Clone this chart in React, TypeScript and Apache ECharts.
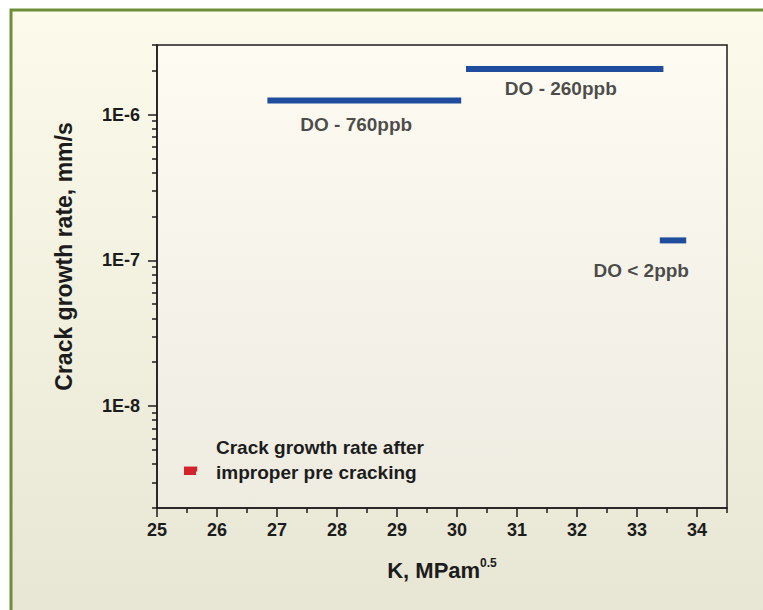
import React, { useEffect, useRef } from "react";
import * as echarts from "echarts";

// Horizontal segments: crack growth rate over a K range
const segNames = ["DO - 760ppb", "DO - 260ppb", "DO < 2ppb", "Crack growth rate after improper pre cracking"];
const kStart = [26.84, 30.15, 33.38, 25.45];
const kEnd = [30.07, 33.44, 33.82, 25.67];
const rates = [1.25e-6, 2.05e-6, 1.37e-7, 3.7e-9];
const segColors = ["#1f4c9c", "#1f4c9c", "#1f4c9c", "#d3222a"];

// Annotation texts placed beneath the segments
const noteTexts = ["DO - 760ppb", "DO - 260ppb", "DO < 2ppb"];
const noteK = [28.32, 31.73, 33.07];
const noteRate = [8.55e-7, 1.5e-6, 8.55e-8];

// Axis ticks
const xMajor = [25, 26, 27, 28, 29, 30, 31, 32, 33, 34];
const xMinor = [25.5, 26.5, 27.5, 28.5, 29.5, 30.5, 31.5, 32.5, 33.5, 34.5];
const yMajor = [1e-8, 1e-7, 1e-6];
const yMinor = [
  2e-9, 3e-9, 4e-9, 5e-9, 6e-9, 7e-9, 8e-9, 9e-9,
  2e-8, 3e-8, 4e-8, 5e-8, 6e-8, 7e-8, 8e-8, 9e-8,
  2e-7, 3e-7, 4e-7, 5e-7, 6e-7, 7e-7, 8e-7, 9e-7,
  2e-6, 3e-6,
];

const FONT = "Liberation Sans, Arial, sans-serif";
const INK = "#1c1c1c";

export default function App() {
  const ref = useRef<HTMLDivElement>(null);
  useEffect(() => {
    document.body.style.margin = "0";
    const chart = echarts.init(ref.current!, null, { renderer: "svg" });
    const axisLine = { show: true, onZero: false, lineStyle: { color: INK, width: 1.5 } };
    const segSeries = segNames.map((n, i) => ({
      type: "line",
      name: n,
      xAxisIndex: 0,
      yAxisIndex: 0,
      symbol: "none",
      data: [
        [kStart[i], rates[i]],
        [kEnd[i], rates[i]],
      ],
      lineStyle: { color: segColors[i], width: i === 3 ? 5 : 6, cap: "butt" },
      itemStyle: { color: segColors[i] },
      z: 3,
    }));
    chart.setOption({
      animation: false,
      backgroundColor: "#ffffff",
      textStyle: { fontFamily: FONT },
      graphic: [
        {
          type: "rect",
          z: -100,
          silent: true,
          shape: { x: 11, y: 10, width: 800, height: 700 },
          style: {
            fill: new echarts.graphic.LinearGradient(0, 0, 0, 1, [
              { offset: 0, color: "#fcfaea" },
              { offset: 1, color: "#e4e2d0" },
            ]),
            stroke: "#6d8f3b",
            lineWidth: 3,
          },
        },
      ],
      grid: {
        left: 157,
        right: 36,
        top: 45,
        bottom: 102,
        show: true,
        borderColor: INK,
        borderWidth: 1.5,
        backgroundColor: new echarts.graphic.LinearGradient(0, 0, 0, 1, [
          { offset: 0, color: "#fdfbf2" },
          { offset: 1, color: "#eeece1" },
        ]),
      },
      legend: {
        left: 184,
        top: 435,
        padding: 0,
        data: [{ name: segNames[3], icon: "rect", itemStyle: { color: segColors[3] } }],
        itemWidth: 12,
        itemHeight: 5,
        formatter: () => "Crack growth rate after\nimproper pre cracking\n ",
        textStyle: {
          fontFamily: FONT,
          fontSize: 19,
          fontWeight: "bold",
          color: INK,
          lineHeight: 25,
          padding: [0, 0, 0, 15],
        },
      },
      xAxis: [
        {
          type: "value",
          position: "bottom",
          min: 25,
          max: 34.5,
          interval: 1,
          axisLine,
          axisTick: { show: true, customValues: xMajor, length: 9, lineStyle: { color: INK, width: 1.5 } },
          axisLabel: {
            customValues: xMajor,
            margin: 13,
            fontFamily: FONT,
            fontSize: 18,
            fontWeight: "bold",
            color: INK,
          },
          splitLine: { show: false },
          name: "{a|K, MPam}{b|0.5}",
          nameLocation: "middle",
          nameGap: 49,
          nameTextStyle: {
            rich: {
              a: { fontFamily: FONT, fontSize: 22, fontWeight: "bold", color: INK },
              b: { fontFamily: FONT, fontSize: 12, fontWeight: "bold", color: INK, padding: [0, 0, 15, 0] },
            },
          },
        },
        {
          type: "value",
          position: "bottom",
          min: 25,
          max: 34.5,
          interval: 1,
          axisLine: { show: false, onZero: false },
          axisTick: { show: true, customValues: xMinor, length: 5, lineStyle: { color: INK, width: 1.5 } },
          axisLabel: { show: false },
          splitLine: { show: false },
        },
      ],
      yAxis: [
        {
          type: "log",
          logBase: 10,
          position: "left",
          min: 2e-9,
          max: 3e-6,
          axisLine,
          axisTick: { show: true, customValues: yMajor, length: 9, lineStyle: { color: INK, width: 1.5 } },
          axisLabel: {
            customValues: yMajor,
            margin: 17,
            fontFamily: FONT,
            fontSize: 18,
            fontWeight: "bold",
            color: INK,
            formatter: (v: number) => "1E" + Math.round(Math.log10(v)),
          },
          splitLine: { show: false },
          name: "Crack growth rate, mm/s",
          nameLocation: "middle",
          nameGap: 82,
          nameRotate: 90,
          nameTextStyle: {
            fontFamily: FONT,
            fontSize: 23,
            fontWeight: "bold",
            color: INK,
            padding: [0, 0, 0, 40],
          },
        },
        {
          type: "log",
          logBase: 10,
          position: "left",
          min: 2e-9,
          max: 3e-6,
          axisLine: { show: false },
          axisTick: { show: true, customValues: yMinor, length: 5, lineStyle: { color: INK, width: 1.5 } },
          axisLabel: { show: false },
          splitLine: { show: false },
        },
      ],
      series: [
        ...segSeries,
        {
          type: "scatter",
          name: "notes",
          xAxisIndex: 0,
          yAxisIndex: 0,
          symbolSize: 1,
          itemStyle: { color: "rgba(0,0,0,0)" },
          data: noteTexts.map((t, i) => ({ name: t, value: [noteK[i], noteRate[i]] })),
          label: {
            show: true,
            position: "inside",
            formatter: "{b}",
            fontFamily: FONT,
            fontSize: 19,
            fontWeight: "bold",
            color: INK,
          },
          z: 4,
        },
      ],
    });
    return () => chart.dispose();
  }, []);
  return <div ref={ref} style={{ width: 763, height: 610 }} />;
}
